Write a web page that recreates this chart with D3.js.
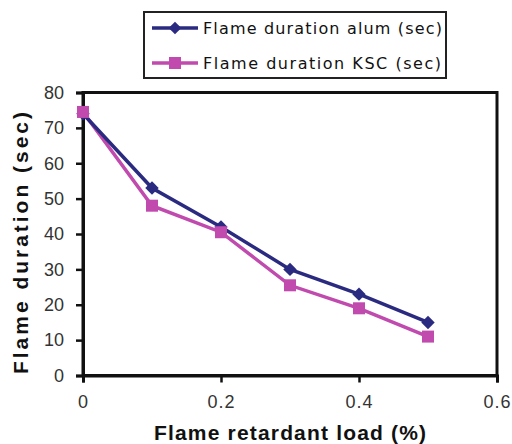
<!DOCTYPE html>
<html><head><meta charset="utf-8">
<script src="https://cdn.jsdelivr.net/npm/d3@7"></script>
<style>body{margin:0;background:#fff;}svg{display:block;}</style>
</head><body>
<script>
const xValues = [0, 0.1, 0.2, 0.3, 0.4, 0.5];
const alum = [74, 53, 42, 30, 23, 15];
const ksc = [74.5, 48, 40.5, 25.5, 19, 11];
const seriesNames = ["Flame duration alum (sec)", "Flame duration KSC (sec)"];
const xTicks = [0, 0.2, 0.4, 0.6];
const yTicks = [0, 10, 20, 30, 40, 50, 60, 70, 80];
const colors = ["#2a2a80", "#c04aae"];

const W = 512, H = 444;
const svg = d3.select("body").append("svg").attr("width", W).attr("height", H);
const x = d3.scaleLinear().domain([0, 0.6]).range([83, 497]);
const y = d3.scaleLinear().domain([0, 80]).range([375.5, 92.5]);
const font = "Liberation Sans, Arial, sans-serif";

// plot frame
svg.append("rect").attr("x", x(0)).attr("y", y(80)).attr("width", x(0.6) - x(0)).attr("height", y(0) - y(80))
  .attr("fill", "#fff").attr("stroke", "#111").attr("stroke-width", 3);

const yAxis = svg.append("g").attr("transform", `translate(${x(0)},0)`)
  .call(d3.axisLeft(y).tickValues(yTicks).tickSize(7).tickPadding(12).tickFormat(d3.format("d")));
const xAxis = svg.append("g").attr("transform", `translate(0,${y(0)})`)
  .call(d3.axisBottom(x).tickValues(xTicks).tickSize(7).tickPadding(13).tickFormat(d => d === 0 ? "0" : d3.format(".1f")(d)));
[yAxis, xAxis].forEach(g => {
  g.select(".domain").attr("stroke", "#111").attr("stroke-width", 3);
  g.selectAll(".tick line").attr("stroke", "#111").attr("stroke-width", 2.5);
  g.selectAll("text").attr("fill", "#333").style("font-family", font).style("font-size", "18px");
});
xAxis.selectAll("text").style("letter-spacing", "1px");

const line = d3.line().x((d, i) => x(xValues[i])).y(d => y(d));
svg.append("path").datum(ksc).attr("d", line).attr("fill", "none").attr("stroke", colors[1]).attr("stroke-width", 3.5);
svg.append("path").datum(alum).attr("d", line).attr("fill", "none").attr("stroke", colors[0]).attr("stroke-width", 3.5);
svg.append("g").selectAll("path").data(alum).join("path")
  .attr("d", d3.symbol().type(d3.symbolSquare).size(90))
  .attr("transform", (d, i) => `translate(${x(xValues[i])},${y(d)}) rotate(45)`)
  .attr("fill", colors[0]);
svg.append("g").selectAll("rect").data(ksc).join("rect")
  .attr("x", (d, i) => x(xValues[i]) - 6).attr("y", d => y(d) - 6).attr("width", 12).attr("height", 12)
  .attr("fill", colors[1]);

// axis titles
svg.append("text").attr("x", 290).attr("y", 440).attr("text-anchor", "middle")
  .attr("textLength", 272).attr("lengthAdjust", "spacing")
  .style("font-family", font).style("font-weight", "bold").style("font-size", "21px")
  .attr("fill", "#111").text("Flame retardant load (%)");
svg.append("text").attr("transform", "translate(28,243) rotate(-90)").attr("text-anchor", "middle")
  .attr("textLength", 262).attr("lengthAdjust", "spacing")
  .style("font-family", font).style("font-weight", "bold").style("font-size", "21px")
  .attr("fill", "#111").text("Flame duration (sec)");

// legend
const lg = svg.append("g");
lg.append("rect").attr("x", 144).attr("y", 12).attr("width", 302).attr("height", 66).attr("fill", "#fff").attr("stroke", "#222").attr("stroke-width", 2);
seriesNames.forEach((name, i) => {
  const ly = 28 + i * 35;
  lg.append("line").attr("x1", 152).attr("x2", 198).attr("y1", ly).attr("y2", ly).attr("stroke", colors[i]).attr("stroke-width", 3.5);
  if (i === 0) {
    lg.append("path").attr("d", d3.symbol().type(d3.symbolSquare).size(80)).attr("transform", `translate(175,${ly}) rotate(45)`).attr("fill", colors[i]);
  } else {
    lg.append("rect").attr("x", 169).attr("y", ly - 6).attr("width", 12).attr("height", 12).attr("fill", colors[i]);
  }
  lg.append("text").attr("x", 203).attr("y", ly + 6).attr("fill", "#111")
    .attr("textLength", i === 0 ? 239 : 238).attr("lengthAdjust", "spacing")
    .style("font-family", "DejaVu Sans, Verdana, sans-serif").style("font-size", "16px")
    .text(name);
});
</script>
</body></html>
